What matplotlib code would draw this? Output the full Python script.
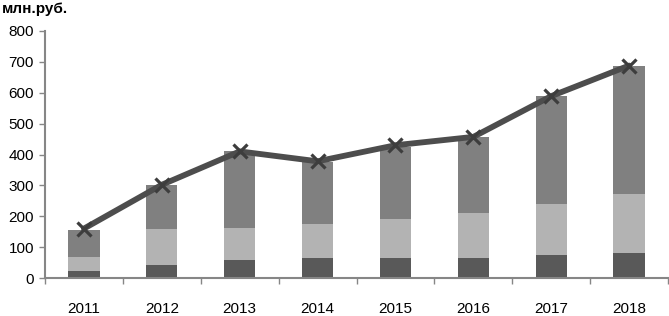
import matplotlib
matplotlib.use('Agg')
import matplotlib.pyplot as plt
import numpy as np

plt.rcParams['font.family'] = ['Liberation Sans', 'DejaVu Sans']

# data ~~~~~~~~~~~~~~~~~~~~~~~~~~~~~~~~~~~~~~~~~~~~~~~~~~~~~~~~~~~~~~
years = ['2011', '2012', '2013', '2014', '2015', '2016', '2017', '2018']
part_low = [23, 42, 58, 65, 65, 65, 74, 81]
part_mid = [45, 116, 104, 110, 126, 145, 165, 191]
part_top = [87, 143, 248, 200, 233, 247, 350, 414]
total = [160, 302, 410, 378, 430, 457, 589, 688]

fig, ax = plt.subplots(figsize=(6.69, 3.16), dpi=100)
fig.subplots_adjust(left=45/669, right=668/669, bottom=38/316, top=1-31/316)

x = np.arange(len(years))
w = 0.4
ax.bar(x, part_low, w, color='#595959', zorder=2)
ax.bar(x, part_mid, w, bottom=part_low, color='#b3b3b3', zorder=2)
bot2 = np.array(part_low) + np.array(part_mid)
ax.bar(x, part_top, w, bottom=bot2, color='#808080', zorder=2)

ax.plot(x, total, color='#4d4d4d', lw=4.2, marker='x', ms=10, mew=2.3,
        mec='#3d3d3d', zorder=3, solid_capstyle='round')

ax.set_xlim(-0.5, 7.5)
ax.set_ylim(0, 800)
ax.set_yticks(range(0, 801, 100))
ax.set_xticks(x)
ax.set_xticklabels(years)
ax.set_xticks(np.arange(-0.5, 8, 1), minor=True)
ax.tick_params(axis='x', which='major', length=0, pad=17, labelsize=11)
ax.tick_params(axis='x', which='minor', length=4, width=1, color='#868686', direction='out')
ax.tick_params(axis='y', length=4, width=1, color='#868686', labelsize=11, pad=4)

for s in ['top', 'right']:
    ax.spines[s].set_visible(False)
for s in ['left', 'bottom']:
    ax.spines[s].set_color('#868686')
    ax.spines[s].set_linewidth(1.5)

fig.text(2/669, 1-9/316, 'млн.руб.', fontsize=11, fontweight='bold', va='center', ha='left')

fig.savefig('out.png', dpi=100)
